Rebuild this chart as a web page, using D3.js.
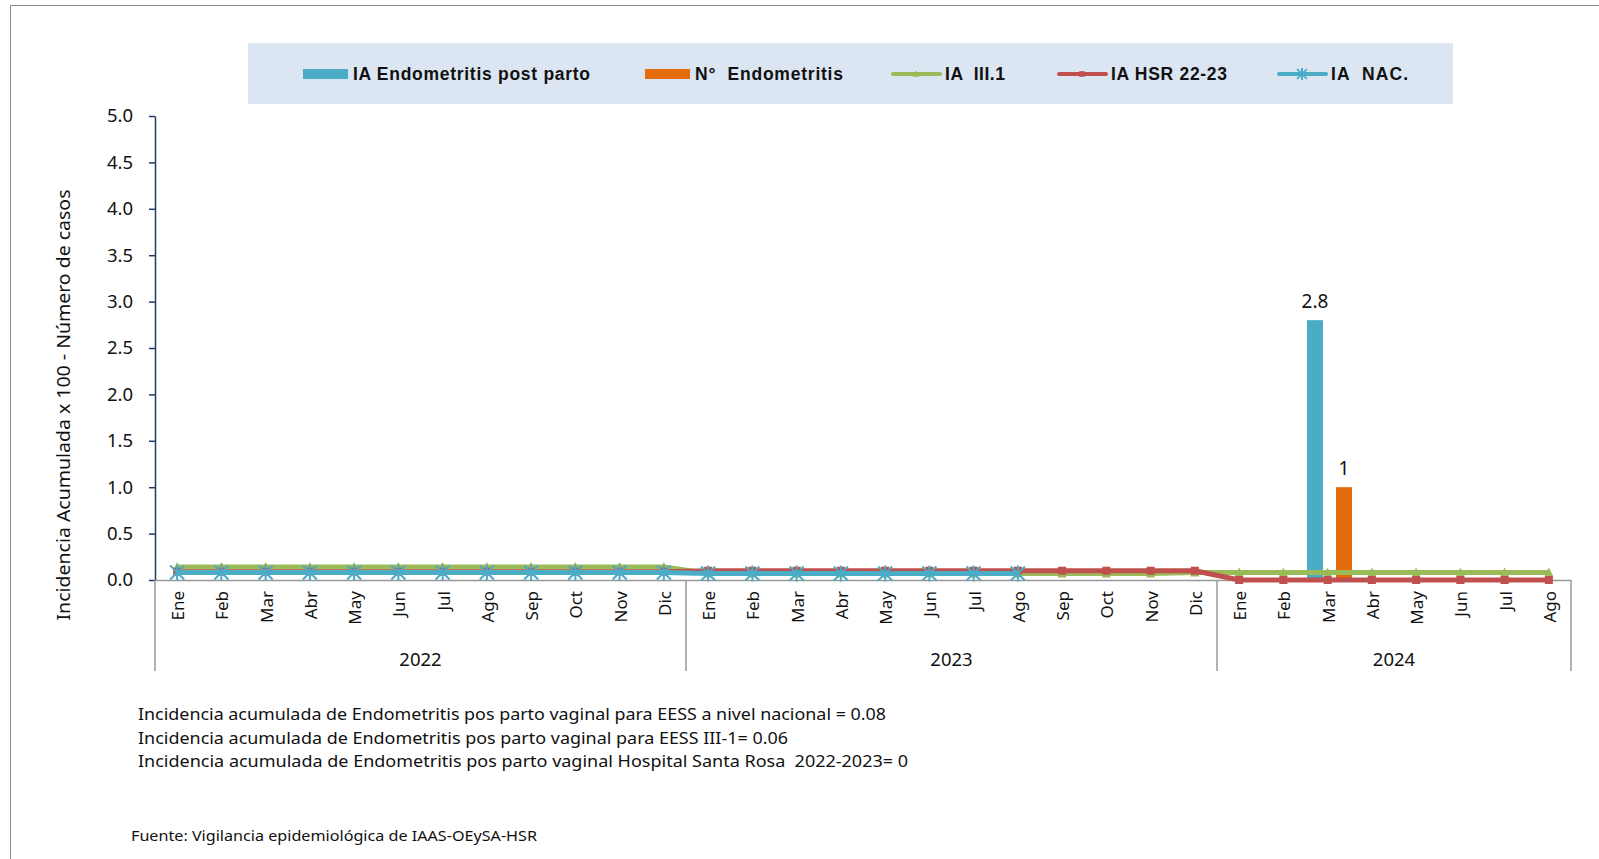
<!DOCTYPE html>
<html><head><meta charset="utf-8">
<script src="https://cdn.jsdelivr.net/npm/d3@7"></script>
<style>body{margin:0;background:#fff;} svg{display:block;} text{white-space:pre;}</style>
</head><body>
<svg id="c" width="1599" height="859"></svg>
<script>
const years = ["2022","2023","2024"];
const months2022 = ["Ene","Feb","Mar","Abr","May","Jun","Jul","Ago","Sep","Oct","Nov","Dic"];
const months2023 = ["Ene","Feb","Mar","Abr","May","Jun","Jul","Ago","Sep","Oct","Nov","Dic"];
const months2024 = ["Ene","Feb","Mar","Abr","May","Jun","Jul","Ago"];
// series (null = no value)
const iaEndometritis = [null,null,null,null,null,null,null,null,null,null,null,null,
  null,null,null,null,null,null,null,null,null,null,null,null,
  null,null,2.8,null,null,null,null,null];
const nEndometritis = [null,null,null,null,null,null,null,null,null,null,null,null,
  null,null,null,null,null,null,null,null,null,null,null,null,
  null,null,1,null,null,null,null,null];
const iaIII1 = [0.14,0.14,0.14,0.14,0.14,0.14,0.14,0.14,0.14,0.14,0.14,0.14,
  0.07,0.07,0.07,0.07,0.07,0.07,0.07,0.07,0.07,0.07,0.07,0.08,
  0.08,0.08,0.08,0.08,0.08,0.08,0.08,0.08];
const iaHSR = [0.09,0.09,0.09,0.09,0.09,0.09,0.09,0.09,0.09,0.09,0.09,0.09,
  0.1,0.1,0.1,0.1,0.1,0.1,0.1,0.1,0.1,0.1,0.1,0.1,
  0,0,0,0,0,0,0,0];
const iaNAC = [0.08,0.08,0.08,0.08,0.08,0.08,0.08,0.08,0.08,0.08,0.08,0.08,
  0.07,0.07,0.07,0.07,0.07,0.07,0.07,0.07,null,null,null,null,
  null,null,null,null,null,null,null,null];
const yTicks = [0,0.5,1,1.5,2,2.5,3,3.5,4,4.5,5];
const legendLabels = ["IA Endometritis post parto","N°  Endometritis","IA  III.1","IA HSR 22-23","IA  NAC."];
const notes = [
  "Incidencia acumulada de Endometritis pos parto vaginal para EESS a nivel nacional = 0.08",
  "Incidencia acumulada de Endometritis pos parto vaginal para EESS III-1= 0.06",
  "Incidencia acumulada de Endometritis pos parto vaginal Hospital Santa Rosa  2022-2023= 0"
];
const source = "Fuente: Vigilancia epidemiológica de IAAS-OEySA-HSR";
const yTitle = "Incidencia Acumulada x 100 - Número de casos";

const monthsByYear = [months2022, months2023, months2024];
const cats = [];
monthsByYear.forEach((ms, yi) => ms.forEach((m, mi) => cats.push({key: years[yi] + "-" + mi, month: m, year: years[yi]})));

const C = {blue:"#4bacc6", orange:"#e46c0a", green:"#9bbb59", red:"#c0504d"};
const font = "'Noto Sans', 'Open Sans', sans-serif";
const svg = d3.select("#c");

// outer border
svg.append("path").attr("d","M10.5,900 V5.5 H1620").attr("fill","none").attr("stroke","#8c8c8c").attr("stroke-width",1);

const L = 155, R = 1571, T = 116, B = 580;
const x = d3.scaleBand().domain(cats.map(c=>c.key)).range([L,R]);
const y = d3.scaleLinear().domain([0,5]).range([B,T]);

function drawMarker(g, type, cx, cy, col, s){
  s = s||1;
  if(type==="tri"){
    const h=8*s, w=9*s;
    g.append("path").attr("d",`M${cx},${cy-h/2-1} L${cx+w/2},${cy+h/2} L${cx-w/2},${cy+h/2} Z`).attr("fill",col);
  } else if(type==="sq"){
    const w=8*s;
    g.append("rect").attr("x",cx-w/2).attr("y",cy-w/2).attr("width",w).attr("height",w).attr("fill",col);
  } else if(type==="ast"){
    const r=7*s;
    g.append("path").attr("d",`M${cx-r},${cy-r} L${cx+r},${cy+r} M${cx-r},${cy+r} L${cx+r},${cy-r} M${cx},${cy-r-1} L${cx},${cy+r+1}`)
      .attr("stroke",col).attr("stroke-width",2).attr("fill","none");
  }
}

// Legend
const lg = svg.append("g");
lg.append("rect").attr("x",248).attr("y",43).attr("width",1205).attr("height",61).attr("fill","#dce6f2");
const legX = [303, 645, 893, 1059, 1279];
const legTypes = ["bar","bar","line","line","line"];
const legCols = [C.blue, C.orange, C.green, C.red, C.blue];
const legMarks = ["","","tri","sq","ast"];
const legW = [237, 148, 60, 116, 77];
legendLabels.forEach((t,i)=>{
  const g = lg.append("g").attr("transform",`translate(${legX[i]},74)`);
  if(legTypes[i]==="bar"){
    g.append("rect").attr("x",0).attr("y",-5).attr("width",45).attr("height",10).attr("fill",legCols[i]);
  } else {
    g.append("line").attr("x1",0).attr("x2",47).attr("y1",0).attr("y2",0).attr("stroke",legCols[i]).attr("stroke-width",4).attr("stroke-linecap","round");
    drawMarker(g, legMarks[i], 23, 0, legCols[i], 0.7);
  }
  g.append("text").attr("x", legTypes[i]==="bar"?50:52).attr("y",0).attr("dy","0.36em")
    .attr("font-family","'Liberation Sans', Arial, sans-serif").attr("font-weight","bold").attr("font-size",17.5)
    .attr("fill","#111").attr("textLength",legW[i]).attr("lengthAdjust","spacing").text(t);
});

// Y axis
const yAxis = d3.axisLeft(y).tickValues(yTicks).tickFormat(d3.format(".1f")).tickSize(6).tickSizeOuter(0);
const ya = svg.append("g").attr("transform",`translate(${L},0)`).call(yAxis);
ya.select(".domain").attr("stroke","#1f3a5f").attr("stroke-width",1.5);
ya.selectAll(".tick line").attr("stroke","#1f3a5f").attr("stroke-width",1.5);
ya.selectAll(".tick text").attr("font-family",font).attr("font-size",18.5).attr("fill","#111").attr("x",-22);

svg.append("text").attr("transform",`translate(70,405) rotate(-90)`).attr("text-anchor","middle")
  .attr("font-family",font).attr("font-size",18).attr("fill","#111")
  .attr("textLength",431).attr("lengthAdjust","spacingAndGlyphs").text(yTitle);

// X axis line and separators
svg.append("line").attr("x1",L).attr("x2",R).attr("y1",B+0.5).attr("y2",B+0.5).attr("stroke","#999").attr("stroke-width",1.5);
const sepIdx = [0,12,24,32];
sepIdx.forEach(i=>{
  const xx = i<cats.length ? x(cats[i].key) : R;
  svg.append("line").attr("x1",xx).attr("x2",xx).attr("y1",B).attr("y2",671).attr("stroke","#999").attr("stroke-width",1.5);
});
// month labels
svg.append("g").selectAll("text").data(cats).join("text")
  .attr("transform",d=>`translate(${x(d.key)+x.bandwidth()/2+7},591) rotate(-90)`)
  .attr("text-anchor","end").attr("font-family",font).attr("font-size",17).attr("fill","#111")
  .text(d=>d.month);
// year labels
years.forEach((yr,yi)=>{
  const sub = cats.filter(c=>c.year===yr);
  const x0 = x(sub[0].key), x1 = x(sub[sub.length-1].key)+x.bandwidth();
  svg.append("text").attr("x",(x0+x1)/2).attr("y",666).attr("text-anchor","middle")
    .attr("font-family",font).attr("font-size",18.5).attr("fill","#111").text(yr);
});

// Bars
const xs = d3.scalePoint().domain(["ia","n"]).range([9.5, 38.5]);
const barData = [];
cats.forEach((c,i)=>{
  if(iaEndometritis[i]!=null) barData.push({key:c.key, s:"ia", v:iaEndometritis[i], col:C.blue});
  if(nEndometritis[i]!=null) barData.push({key:c.key, s:"n", v:nEndometritis[i], col:C.orange});
});
const bw = 16;
svg.append("g").selectAll("rect").data(barData).join("rect")
  .attr("x",d=>x(d.key)+xs(d.s)-bw/2).attr("width",bw)
  .attr("y",d=>y(d.v)).attr("height",d=>y(0)-y(d.v)).attr("fill",d=>d.col);
svg.append("g").selectAll("text").data(barData).join("text")
  .attr("x",d=>x(d.key)+xs(d.s)).attr("y",d=>y(d.v)-12)
  .attr("text-anchor","middle").attr("font-family",font).attr("font-size",19).attr("fill","#111")
  .text(d=>d3.format("~g")(d.v));

// Lines
function drawSeries(vals, col, mk){
  const pts = cats.map((c,i)=>({x:x(c.key)+x.bandwidth()/2, v:vals[i]}));
  const line = d3.line().defined(d=>d.v!=null).x(d=>d.x).y(d=>y(d.v));
  svg.append("path").datum(pts).attr("d",line).attr("fill","none").attr("stroke",col)
    .attr("stroke-width",5).attr("stroke-linejoin","round");
  const g = svg.append("g");
  pts.filter(p=>p.v!=null).forEach(p=>drawMarker(g, mk, p.x, y(p.v), col, 1));
}
drawSeries(iaIII1, C.green, "tri");
drawSeries(iaHSR, C.red, "sq");
drawSeries(iaNAC, C.blue, "ast");

// Notes
const noteW = [748, 650, 770];
notes.forEach((t,i)=>{
  svg.append("text").attr("x",138).attr("y",720+i*23.5).attr("font-family",font).attr("font-size",15.5)
    .attr("fill","#111").attr("textLength",noteW[i]).attr("lengthAdjust","spacingAndGlyphs").text(t);
});
svg.append("text").attr("x",131).attr("y",841).attr("font-family",font).attr("font-size",14)
  .attr("fill","#111").attr("textLength",406).attr("lengthAdjust","spacingAndGlyphs").text(source);
</script>
</body></html>
